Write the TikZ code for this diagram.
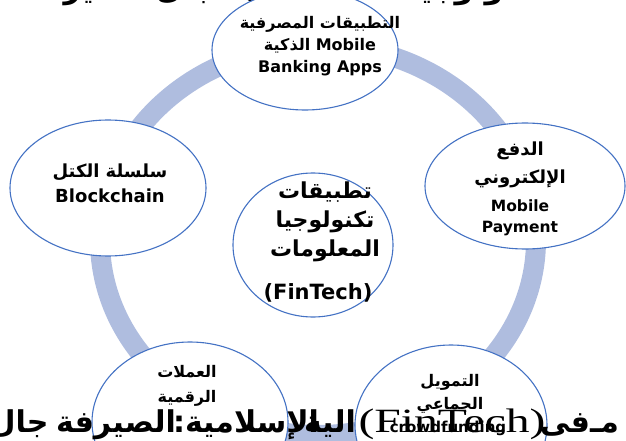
\documentclass[tikz,border=0pt]{standalone}
\usepackage{fontspec}
\usetikzlibrary{shapes.geometric}
\TeXXeTstate=1
\newfontfamily\arb[Script=Arabic]{DejaVu Sans}
\newfontfamily\lat{DejaVu Sans}
\newfontfamily\ser{Liberation Serif}
\newcommand\artxt[1]{{\arb\beginR #1\endR}}
\definecolor{ringblue}{RGB}{175,189,223}
\definecolor{edgeblue}{RGB}{68,114,196}
\tikzset{
  bubble/.style={ellipse, draw=edgeblue, line width=1.1pt, fill=white, inner sep=0pt},
  txt/.style={align=center, inner sep=0pt, text=black},
  bodyline/.style={anchor=base, inner sep=0pt, font=\arb\bfseries\fontsize{30}{32}\selectfont},
}
\begin{document}
\begin{tikzpicture}[x=1pt,y=-1pt]
\useasboundingbox (0,0) rectangle (626,441);
\clip (0,0) rectangle (626,441);

% line of running text above the figure
\node[bodyline] (headline) at (313,-1) {\beginR وتتمثل أهم تطبيقات التكنولوجيا المالية في مجال الصيرفة الإسلامية فيما يلي\endR};

% ring joining the bubbles
\node[ellipse, draw=ringblue, line width=20pt, minimum width=436pt, minimum height=390pt, inner sep=0pt] (ring) at (318,240) {};

% bubbles
\node[bubble, minimum width=186pt, minimum height=120pt] (bank)  at (305,50)  {};
\node[bubble, minimum width=196pt, minimum height=136pt] (chain) at (108,188) {};
\node[bubble, minimum width=200pt, minimum height=126pt] (pay)   at (525,186) {};
\node[bubble, minimum width=160pt, minimum height=144pt] (core)  at (313,245) {};
\node[bubble, minimum width=196pt, minimum height=160pt] (coin)  at (190,422) {};
\node[bubble, minimum width=192pt, minimum height=160pt] (crowd) at (451,425) {};

% bubble labels
\node[txt, font=\lat\bfseries\fontsize{16}{22}\selectfont] (bank-t) at (320,46)
  {\artxt{التطبيقات المصرفية}\\ \artxt{الذكية} Mobile\\ Banking Apps};
\node[txt, font=\lat\bfseries\fontsize{18}{25}\selectfont] (chain-t) at (110,183)
  {\artxt{سلسلة الكتل}\\ Blockchain};
\node[txt, font=\lat\bfseries\fontsize{18}{28}\selectfont] (pay-a) at (520,165)
  {\artxt{الدفع}\\ \artxt{الإلكتروني}};
\node[txt, font=\lat\bfseries\fontsize{15.5}{21}\selectfont] (pay-l) at (520,218)
  {Mobile\\ Payment};
\node[txt, font=\lat\bfseries\fontsize{22}{29}\selectfont] (core-a) at (325,222)
  {\artxt{تطبيقات}\\ \artxt{تكنولوجيا}\\ \artxt{المعلومات}};
\node[txt, font=\lat\bfseries\fontsize{21}{25}\selectfont] (core-l) at (318,293)
  {(FinTech)};
\node[txt, font=\lat\bfseries\fontsize{16}{25}\selectfont] (coin-t) at (187,386)
  {\artxt{العملات}\\ \artxt{الرقمية}};
\node[txt, font=\lat\bfseries\fontsize{16}{23}\selectfont] (crowd-a) at (450,394)
  {\artxt{التمويل}\\ \artxt{الجماعي}};
\node[txt, font=\lat\bfseries\fontsize{15}{20}\selectfont] (crowd-l) at (448,428)
  {crowdfunding};

% line of running text below the figure
\node[bodyline] (b1) at (19,432)  {جال};
\node[bodyline] (b2) at (116,432) {الصيرفة};
\node[bodyline] (b3) at (246,432) {الإسلامية:};
\node[bodyline] (b4) at (330,432) {الية};
\node[anchor=base, inner sep=0pt, font=\ser\fontsize{34}{36}\selectfont, xscale=1.4] (b5) at (452,432) {(FinTech)};
\node[bodyline] (b6) at (565,432) {فى};
\node[bodyline, anchor=base west] (b7) at (590,432) {مـ};
\end{tikzpicture}
\end{document}
